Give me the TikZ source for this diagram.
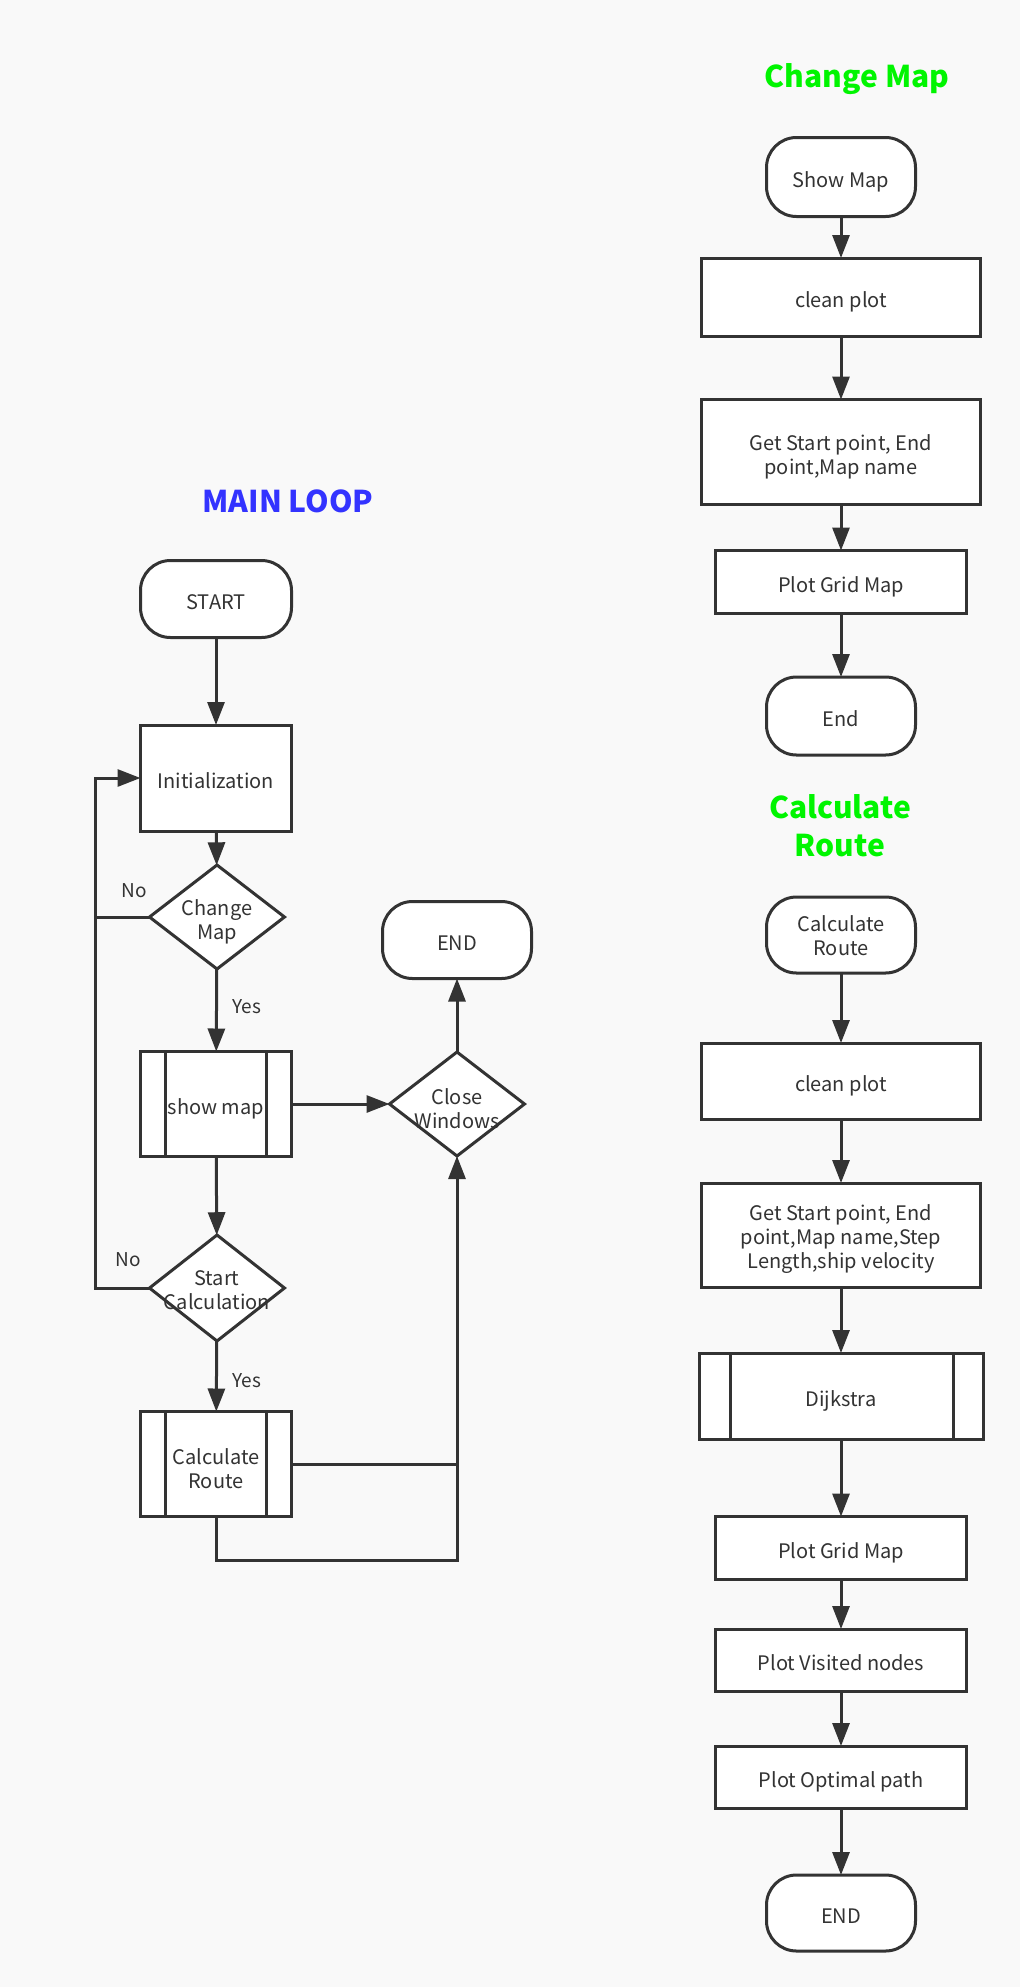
\documentclass[tikz,border=0pt]{standalone}
\usepackage{fontspec}
\setmainfont{Noto Sans CJK SC}
\usetikzlibrary{shapes.geometric,arrows.meta}
\definecolor{bg}{RGB}{249,249,249}
\definecolor{ln}{RGB}{51,51,51}
\definecolor{txt}{RGB}{51,51,51}
\definecolor{ttlblue}{RGB}{51,51,255}
\definecolor{ttlgreen}{RGB}{0,245,0}
\begin{document}
\begin{tikzpicture}[x=1pt,y=-1pt,
  every node/.style={font=\fontsize{20}{24}\selectfont, text=txt, align=center},
  strutted/.style={execute at begin node={\rule{0pt}{26pt}}, execute at end node={\rule[-5pt]{0pt}{5pt}}},
  base/.style={draw=ln, line width=3pt, fill=white, inner sep=0pt, outer sep=0pt, strutted},
  proc/.style n args={2}{base, rectangle, minimum width=#1, minimum height=#2},
  term/.style n args={2}{base, rectangle, rounded corners=30pt, minimum width=#1, minimum height=#2},
  diam/.style={base, diamond, minimum width=135pt, minimum height=104pt},
  mtxt/.style={inner sep=0pt, yshift=-4.5pt},
  ttl/.style={font=\fontsize{30}{38}\selectfont\bfseries},
  lbl/.style={font=\fontsize{19}{22}\selectfont},
  conn/.style={draw=ln, line width=3pt},
  arr/.style={conn, -{Triangle[length=23pt,width=17pt]}}
]
\useasboundingbox[fill=bg] (0,0) rectangle (1020,1987);

% ---------- MAIN LOOP ----------
\node[ttl, text=ttlblue, anchor=base] (tmain) at (288,512) {MAIN LOOP};
\node[term={151pt}{77pt}] (start) at (216,599) {START};
\node[proc={151pt}{106pt}] (init) at (216,778) {Initialization};
\node[diam] (cmap) at (217,917) {};
\node[mtxt] (cmapt) at (cmap) {Change\\Map};
\node[proc={151pt}{105pt}] (show) at (216,1104) {show map};
\node[diam] (close) at (457,1104) {};
\node[mtxt] (closet) at (close) {Close\\Windows};
\node[term={149pt}{77pt}] (endm) at (457,940) {END};
\node[diam, minimum height=106pt] (scalc) at (217,1288) {};
\node[mtxt, yshift=2pt] (scalct) at (scalc) {Start\\Calculation};
\node[proc={151pt}{105pt}] (croute) at (216,1464) {};
\node[mtxt] (croutet) at (croute) {Calculate\\Route};

\foreach \n/\d in {show/25, croute/25} {
  \draw[conn] ([xshift=\d pt]\n.north west) -- ([xshift=\d pt]\n.south west);
  \draw[conn] ([xshift=-\d pt]\n.north east) -- ([xshift=-\d pt]\n.south east);
}

\node[lbl] (no1) at (134,891) {No};
\node[lbl] (yes1) at (247,1007) {Yes};
\node[lbl] (no2) at (128,1260) {No};
\node[lbl] (yes2) at (247,1381) {Yes};

\coordinate (loopA) at (95,917);
\draw[arr] (start) -- (init);
\draw[arr] (init) -- (cmap);
\draw[arr] (cmap) -- (show);
\draw[arr] (show) -- (close);
\draw[arr] (close) -- (endm);
\draw[arr] (show) -- (scalc);
\draw[arr] (scalc) -- (croute);
\draw[arr] (cmap.west) -- (loopA) |- (init.west);
\draw[conn] (scalc.west) -| (loopA);
\draw[conn] (croute.east) -- (croute.east -| close.south);
\draw[arr] (croute.south) -- ++(0,44) -| (close.south);

% ---------- CHANGE MAP ----------
\node[ttl, text=ttlgreen, anchor=base] (tcm) at (857,87) {Change Map};
\node[term={149pt}{79pt}] (showmap) at (841,177) {Show Map};
\node[proc={279pt}{78pt}] (clean1) at (841,297) {clean plot};
\node[proc={279pt}{105pt}] (get1) at (841,452) {};
\node[mtxt] (get1t) at (get1) {Get Start point, End\\point,Map name};
\node[proc={251pt}{63pt}] (grid1) at (841,582) {Plot Grid Map};
\node[term={149pt}{78pt}] (end1) at (841,716) {End};
\draw[arr] (showmap) -- (clean1);
\draw[arr] (clean1) -- (get1);
\draw[arr] (get1) -- (grid1);
\draw[arr] (grid1) -- (end1);

% ---------- CALCULATE ROUTE ----------
\node[ttl, text=ttlgreen] (tcr) at (840,826) {Calculate\\Route};
\node[term={149pt}{76pt}] (cr) at (841,935) {};
\node[mtxt, yshift=3.5pt] (crt) at (cr) {Calculate\\Route};
\node[proc={279pt}{76pt}] (clean2) at (841,1081) {clean plot};
\node[proc={279pt}{104pt}] (get2) at (841,1235) {};
\node[mtxt] (get2t) at (get2) {Get Start point, End\\point,Map name,Step\\Length,ship velocity};
\node[proc={284pt}{86pt}] (dij) at (841,1396) {Dijkstra};
\draw[conn] ([xshift=31pt]dij.north west) -- ([xshift=31pt]dij.south west);
\draw[conn] ([xshift=-30pt]dij.north east) -- ([xshift=-30pt]dij.south east);
\node[proc={251pt}{63pt}] (grid2) at (841,1548) {Plot Grid Map};
\node[proc={251pt}{62pt}] (vis) at (841,1660) {Plot Visited nodes};
\node[proc={251pt}{62pt}] (opt) at (841,1777) {Plot Optimal path};
\node[term={149pt}{76pt}] (end2) at (841,1913) {END};
\draw[arr] (cr) -- (clean2);
\draw[arr] (clean2) -- (get2);
\draw[arr] (get2) -- (dij);
\draw[arr] (dij) -- (grid2);
\draw[arr] (grid2) -- (vis);
\draw[arr] (vis) -- (opt);
\draw[arr] (opt) -- (end2);
\end{tikzpicture}
\end{document}
